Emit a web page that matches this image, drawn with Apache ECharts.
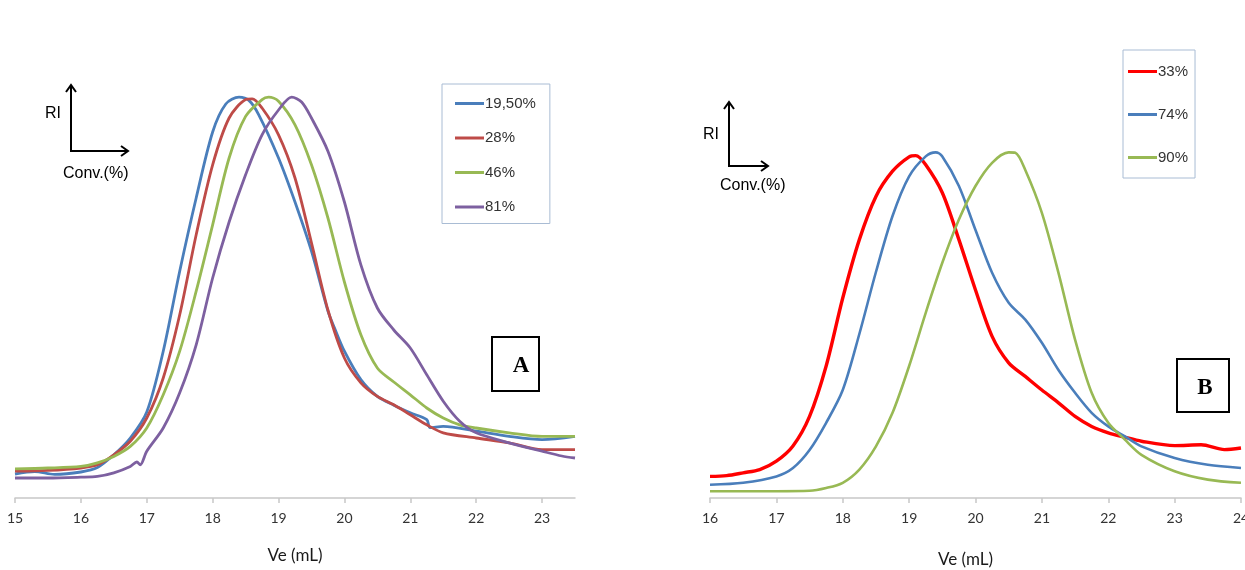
<!DOCTYPE html>
<html><head><meta charset="utf-8">
<script src="https://cdn.jsdelivr.net/npm/echarts@6/dist/echarts.min.js"></script>
<style>html,body{margin:0;padding:0;background:#fff}#c{width:1245px;height:570px}</style>
</head><body><div id="c"></div>
<script>
// Panel A: [Ve (mL), RI (a.u.)]
const namesA = ['19,50%', '28%', '46%', '81%'];
const a_19_50 = [[15.0,6.0],[15.3,6.6],[15.6,5.9],[16.0,6.5],[16.25,7.6],[16.5,10.8],[16.75,15.0],[17.0,21.5],[17.25,36.7],[17.5,56.7],[17.75,75.0],[18.0,91.5],[18.2,98.5],[18.4,100.2],[18.55,99.4],[18.7,95.8],[19.0,85.0],[19.25,74.0],[19.5,61.7],[19.75,46.7],[19.85,42.5],[20.0,36.7],[20.25,29.6],[20.5,25.4],[20.75,23.2],[21.0,21.3],[21.25,19.6],[21.3,17.6],[21.5,17.9],[22.0,16.7],[22.5,15.4],[23.0,14.6],[23.5,15.4]];
const a_28 = [[15.0,6.7],[15.5,6.9],[16.0,7.5],[16.25,8.3],[16.5,10.8],[16.75,14.2],[17.0,20.0],[17.25,30.0],[17.5,45.8],[17.75,65.8],[18.0,83.3],[18.25,95.0],[18.5,99.6],[18.6,99.8],[18.75,97.5],[19.0,90.8],[19.25,80.0],[19.5,63.8],[19.75,47.0],[20.0,35.0],[20.25,28.8],[20.5,25.4],[20.75,23.3],[21.0,20.8],[21.25,18.3],[21.5,16.3],[22.0,15.0],[22.5,13.8],[23.0,12.1],[23.5,12.1]];
const a_46 = [[15.0,7.3],[15.5,7.5],[16.0,7.9],[16.25,8.8],[16.5,10.4],[16.75,12.9],[17.0,17.5],[17.25,25.8],[17.5,36.7],[17.75,51.7],[18.0,68.3],[18.25,85.0],[18.5,95.4],[18.75,99.6],[18.85,100.2],[19.0,99.2],[19.25,93.3],[19.5,83.3],[19.75,70.0],[20.0,54.0],[20.25,40.8],[20.5,32.5],[20.75,29.0],[21.0,25.8],[21.25,22.5],[21.5,20.0],[21.75,18.3],[22.0,17.5],[22.5,16.3],[23.0,15.4],[23.5,15.4]];
const a_81 = [[15.0,5.0],[15.5,5.0],[16.0,5.2],[16.25,5.4],[16.5,6.3],[16.75,7.9],[16.85,9.0],[16.9,8.3],[17.0,11.7],[17.25,17.5],[17.5,26.3],[17.75,38.3],[18.0,55.0],[18.25,69.0],[18.5,80.8],[18.75,90.8],[19.0,97.0],[19.2,100.2],[19.35,99.0],[19.5,95.0],[19.75,86.7],[20.0,74.0],[20.25,58.3],[20.5,47.5],[20.75,42.0],[21.0,37.5],[21.25,30.8],[21.5,24.2],[21.75,19.2],[22.0,16.3],[22.5,13.8],[23.0,11.7],[23.3,10.5],[23.5,10.0]];

// Panel B
const namesB = ['33%', '74%', '90%'];
const b_33 = [[16.0,5.4],[16.25,5.6],[16.5,6.3],[16.75,7.1],[17.0,9.2],[17.25,13.0],[17.5,20.4],[17.75,33.0],[18.0,50.0],[18.25,64.6],[18.5,75.4],[18.75,81.7],[19.0,85.3],[19.1,85.6],[19.25,83.3],[19.5,76.3],[19.75,64.6],[20.0,52.0],[20.25,40.4],[20.5,33.8],[20.75,30.4],[21.0,27.0],[21.25,23.8],[21.5,20.4],[21.75,17.9],[22.0,16.3],[22.25,15.2],[22.5,14.2],[23.0,13.1],[23.4,13.3],[23.75,12.1],[24.0,12.5]];
const b_74 = [[16.0,3.3],[16.5,3.8],[17.0,5.4],[17.25,7.5],[17.5,12.0],[17.75,18.8],[18.0,27.0],[18.25,41.0],[18.5,56.5],[18.75,70.5],[19.0,80.4],[19.25,85.4],[19.4,86.4],[19.5,85.4],[19.75,78.0],[20.0,67.0],[20.25,56.3],[20.5,48.8],[20.75,44.6],[21.0,38.8],[21.25,32.0],[21.5,26.3],[21.75,21.3],[22.0,17.9],[22.25,15.4],[22.5,12.9],[23.0,10.0],[23.5,8.3],[24.0,7.5]];
const b_90 = [[16.0,1.7],[17.0,1.7],[17.5,1.8],[17.75,2.5],[18.0,3.8],[18.25,7.1],[18.5,12.9],[18.75,21.3],[19.0,33.0],[19.25,46.3],[19.5,58.8],[19.75,69.6],[20.0,78.0],[20.25,83.8],[20.5,86.4],[20.6,86.3],[20.75,82.0],[21.0,71.3],[21.25,56.3],[21.5,39.6],[21.75,26.3],[22.0,18.8],[22.25,14.6],[22.5,10.8],[23.0,6.7],[23.5,4.6],[24.0,3.8]];

const colorsA = ['#4a7ebb', '#be4b48', '#98b954', '#7d60a0'];
const colorsB = ['#ff0000', '#4a7ebb', '#98b954'];

const chart = echarts.init(document.getElementById('c'), null, {renderer: 'canvas'});

function xAxisCfg(grid, min, max, pad) {
  return {
    gridIndex: grid, type: 'value', min: min, max: max, interval: 1,
    axisLine: {show: true, lineStyle: {color: '#c8c8c8', width: 1.5}},
    axisTick: {show: true, length: 5, lineStyle: {color: '#c8c8c8', width: 1.5}},
    axisLabel: {margin: 13, color: '#333', fontSize: 14, fontFamily: 'Lato', showMaxLabel: grid === 1},
    splitLine: {show: false},
    name: 'Ve (mL)', nameLocation: 'middle', nameGap: grid === 0 ? 49 : 53,
    nameTextStyle: {fontSize: 17, color: '#1a1a1a', fontFamily: 'Lato', padding: pad}
  };
}
function yAxisCfg(grid) {
  return {gridIndex: grid, type: 'value', min: 0, max: 110, show: false, splitLine: {show: false}};
}
function mkSeries(name, data, color, xi, w) {
  return {name: name, type: 'line', xAxisIndex: xi, yAxisIndex: xi, data: data,
    showSymbol: false, symbol: 'none', smooth: 0.3, color: color,
    lineStyle: {color: color, width: w}, emphasis: {disabled: true}, animation: false};
}

const dataA = [a_19_50, a_28, a_46, a_81];
const dataB = [b_33, b_74, b_90];
const series = [];
namesA.forEach((n, i) => series.push(mkSeries(n, dataA[i], colorsA[i], 0, 2.8)));
namesB.forEach((n, i) => series.push(mkSeries(n, dataB[i], colorsB[i], 1, i === 0 ? 3.4 : 2.6)));

function arrow(x0, y0, xTop, xRight) {
  const s = {stroke: '#000', lineWidth: 2, fill: null};
  return [
    {type: 'polyline', shape: {points: [[x0, xTop], [x0, y0], [xRight, y0]]}, style: s},
    {type: 'polyline', shape: {points: [[x0 - 5, xTop + 7], [x0, xTop], [x0 + 5, xTop + 7]]}, style: s},
    {type: 'polyline', shape: {points: [[xRight - 7, y0 - 5], [xRight, y0], [xRight - 7, y0 + 5]]}, style: s}
  ];
}
function txt(t, x, y, size, font, weight, align) {
  return {type: 'text', x: x, y: y, style: {text: t, fontSize: size, fontFamily: font, fontWeight: weight || 'normal',
    fill: '#000', align: align || 'left', verticalAlign: 'middle'}};
}

const graphics = [].concat(
  arrow(71, 151, 85, 128),
  [txt('RI', 45, 114, 16, 'Liberation Sans'), txt('Conv.(%)', 63, 174, 16, 'Liberation Sans')],
  arrow(729, 166, 102, 768),
  [txt('RI', 703, 135, 16, 'Liberation Sans'), txt('Conv.(%)', 720, 186, 16, 'Liberation Sans')],
  [
    {type: 'rect', shape: {x: 492, y: 337, width: 47, height: 54}, style: {fill: '#fff', stroke: '#000', lineWidth: 2}},
    txt('A', 521, 366, 23, 'Liberation Serif', 'bold', 'center'),
    {type: 'rect', shape: {x: 1177, y: 359, width: 52, height: 53}, style: {fill: '#fff', stroke: '#000', lineWidth: 2}},
    txt('B', 1205, 388, 23, 'Liberation Serif', 'bold', 'center')
  ]
);

const legendCommon = {
  orient: 'vertical', icon: 'rect', itemHeight: 3,
  borderColor: '#a9bcd4', borderWidth: 1, backgroundColor: '#fff',
  textStyle: {fontSize: 15, color: '#333', fontFamily: 'Liberation Sans', padding: [0, 0, 0, -4]},
  selectedMode: false
};

chart.setOption({
  animation: false,
  backgroundColor: '#fff',
  grid: [
    {left: 15, right: 670, top: 58, bottom: 72, outerBoundsMode: 'none', containLabel: false},
    {left: 710, right: 4, top: 58, bottom: 72, outerBoundsMode: 'none', containLabel: false}
  ],
  xAxis: [xAxisCfg(0, 15, 23.5, [0, 0, 0, 0]), xAxisCfg(1, 16, 24, [0, 20, 0, 0])],
  yAxis: [yAxisCfg(0), yAxisCfg(1)],
  legend: [
    Object.assign({}, legendCommon, {data: namesA, left: 442, top: 84, itemWidth: 29, itemGap: 19.5, padding: [12, 14, 9, 13]}),
    Object.assign({}, legendCommon, {data: namesB, left: 1123, top: 50, itemWidth: 29, itemGap: 28, padding: [14, 7, 13, 5]})
  ],
  series: series,
  graphic: graphics
});
</script></body></html>
